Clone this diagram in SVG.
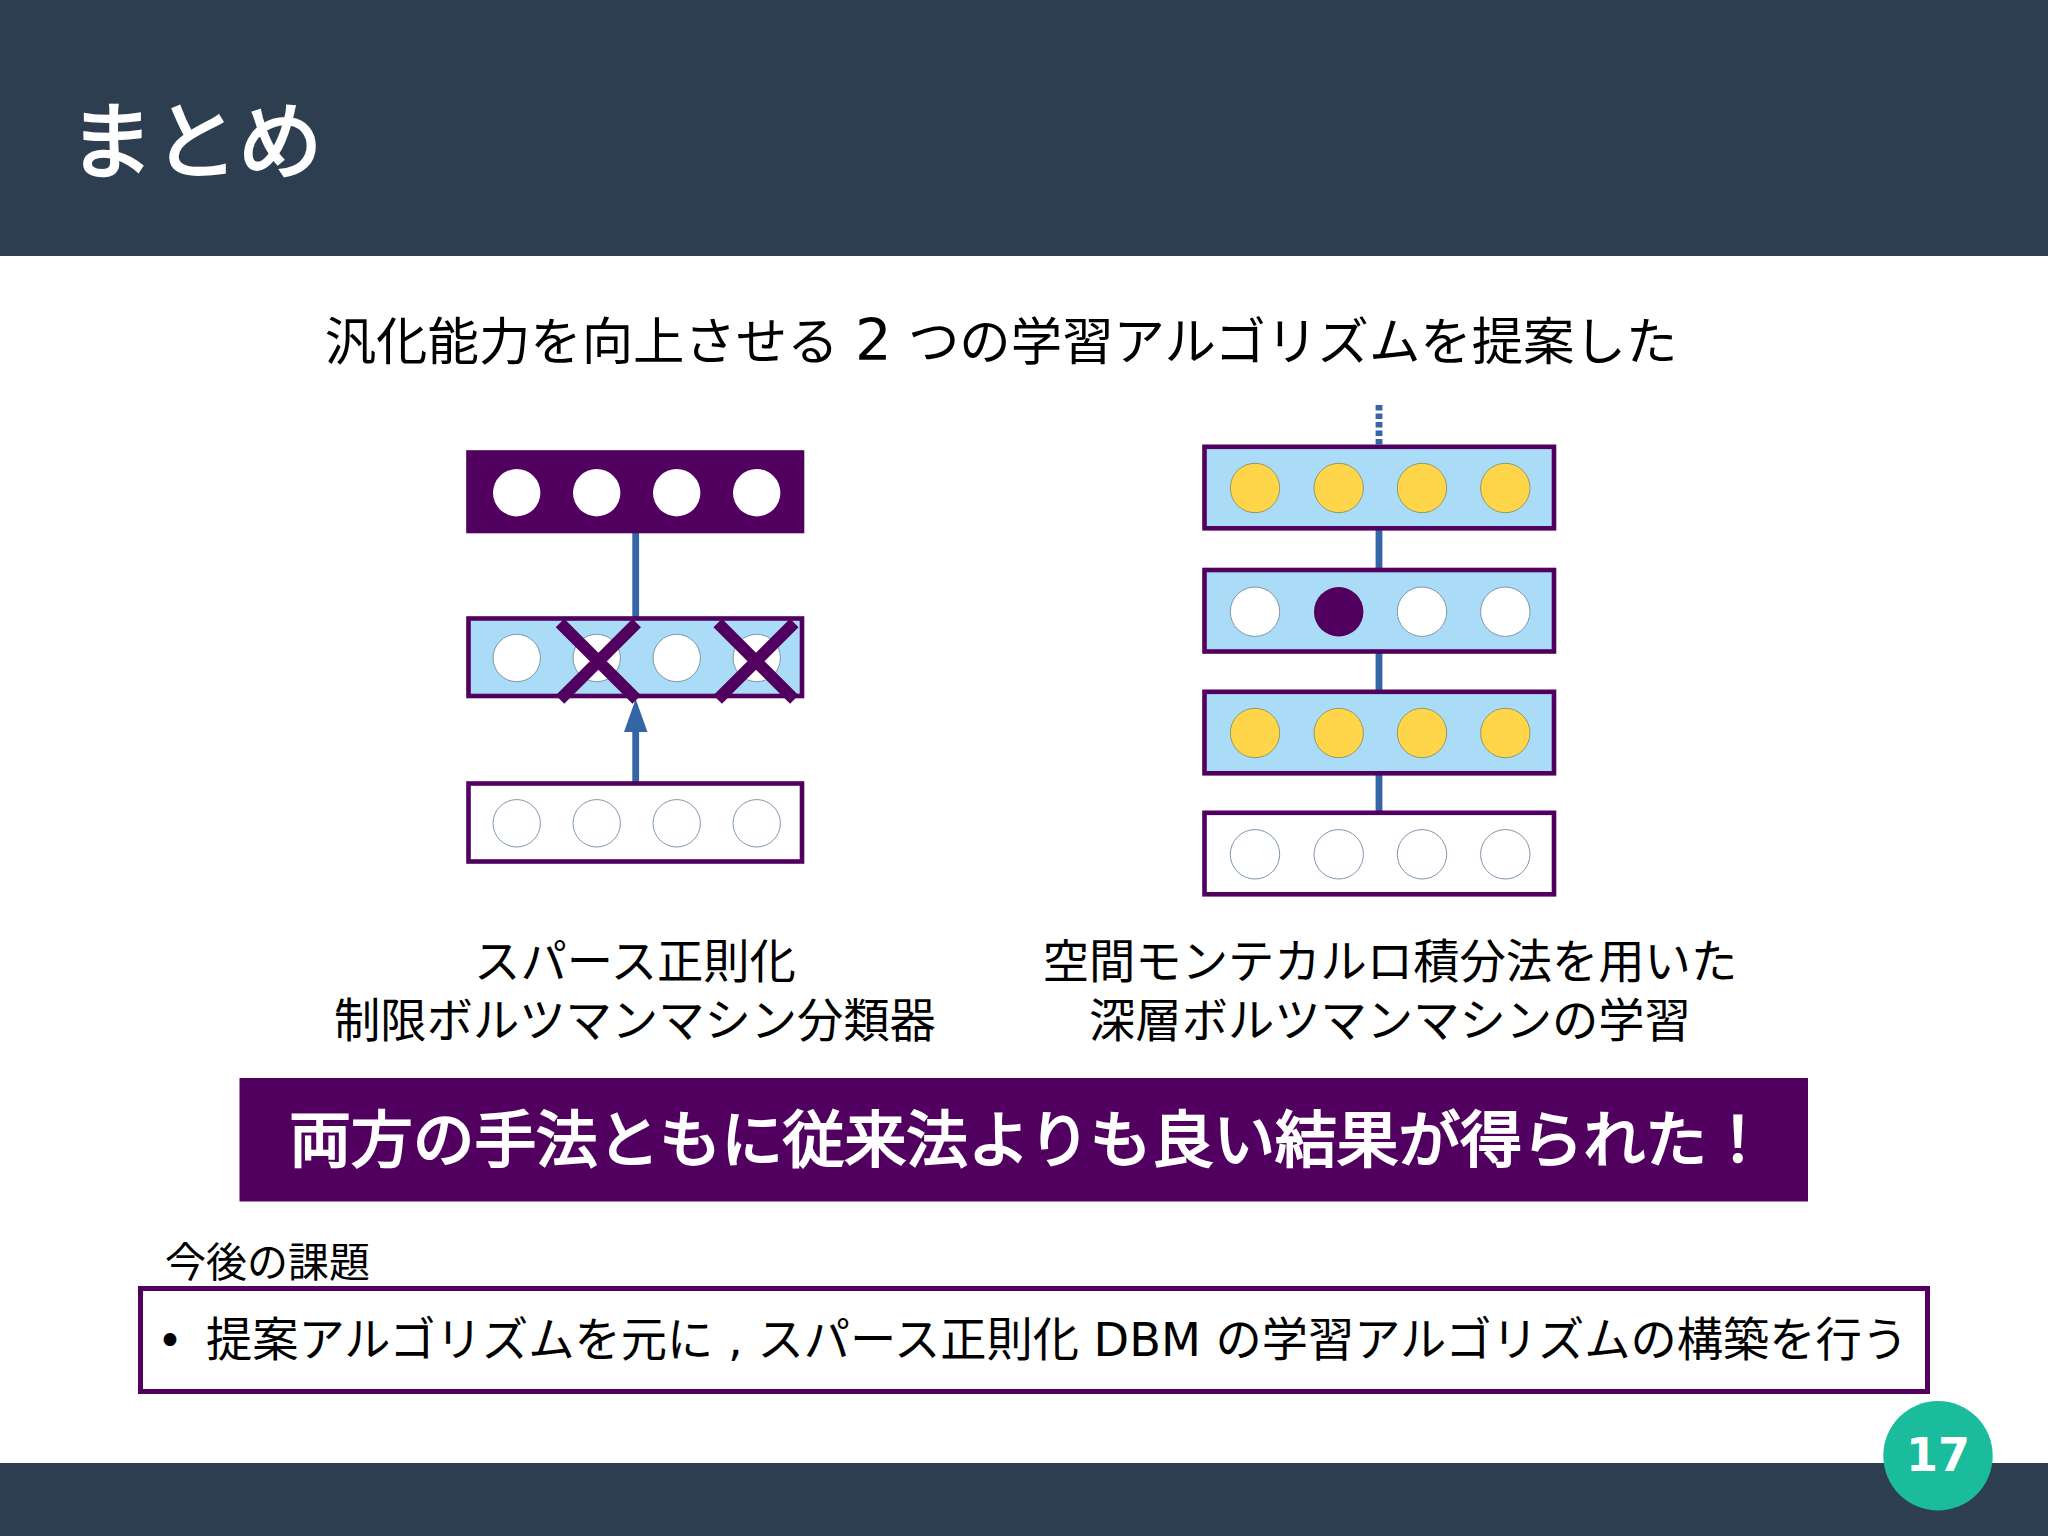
<svg xmlns="http://www.w3.org/2000/svg" width="2048" height="1536" viewBox="0 0 2048 1536">
<style>
text{font-family:"DejaVu Sans","Noto Sans CJK JP",sans-serif;fill:#000}
.w{fill:#fff}
.mid{text-anchor:middle}
.layer{stroke:#52005f;stroke-width:4.6}
.blue{fill:#aadcf7}
.none{fill:#fff}
.n{stroke:#7f95ad;stroke-width:1;fill:#fff}
.y{stroke:#8f9a6a;stroke-width:1;fill:#ffd64a}
.conn{stroke:#3465a4;stroke-width:6.8;fill:none}
.x{stroke:#52005f;stroke-width:12;fill:none}
</style>
<rect width="2048" height="1536" fill="#fff"/>
<rect id="header" width="2048" height="256" fill="#2e3e51"/>
<rect id="footer" y="1463" width="2048" height="73" fill="#2e3e51"/>
<text id="title" class="w" x="69" y="172" font-size="84.5" stroke="#fff" stroke-width="2.4">まとめ</text>
<text id="subtitle" class="mid" x="1001" y="360" font-size="51.4">汎化能力を向上させる <tspan font-size="57.6">2</tspan> つの学習アルゴリズムを提案した</text>

<g id="connectors">
<path class="conn" d="M635.7 531V618M635.7 782V728"/>
<path d="M635.7 699L647.5 732H624Z" fill="#3465a4"/>
<path class="conn" d="M1379 405V445" stroke-dasharray="5.5 3"/>
<path class="conn" d="M1379 529V569M1379 652V691M1379 774V812"/>
</g>

<g id="left-top">
<rect class="layer" x="468.5" y="452.5" width="333.5" height="78.5" fill="#52005f"/>
<circle class="n" cx="516.7" cy="492.7" r="23.7" style="stroke:none"/><circle class="n" cx="596.7" cy="492.7" r="23.7" style="stroke:none"/><circle class="n" cx="676.7" cy="492.7" r="23.7" style="stroke:none"/><circle class="n" cx="756.7" cy="492.7" r="23.7" style="stroke:none"/>
</g>
<g id="left-middle">
<rect class="layer blue" x="468.5" y="618.5" width="333.5" height="77.5"/>
<circle class="n" cx="516.7" cy="658" r="23.7"/><circle class="n" cx="596.7" cy="658" r="23.7"/><circle class="n" cx="676.7" cy="658" r="23.7"/><circle class="n" cx="756.7" cy="658" r="23.7"/>
<path class="x" d="M560 623L636.7 699.5M636.7 623L560 699.5M717.7 623L794.3 699.5M794.3 623L717.7 699.5"/>
</g>
<g id="left-bottom">
<rect class="layer none" x="468.5" y="783.5" width="333.5" height="78"/>
<circle class="n" cx="516.7" cy="823.3" r="23.7"/><circle class="n" cx="596.7" cy="823.3" r="23.7"/><circle class="n" cx="676.7" cy="823.3" r="23.7"/><circle class="n" cx="756.7" cy="823.3" r="23.7"/>
</g>

<g id="right-h2">
<rect class="layer blue" x="1204.5" y="446.8" width="349.5" height="81.5"/>
<circle class="y" cx="1255" cy="488" r="24.7"/><circle class="y" cx="1338.7" cy="488" r="24.7"/><circle class="y" cx="1422" cy="488" r="24.7"/><circle class="y" cx="1505.3" cy="488" r="24.7"/>
</g>
<g id="right-h1">
<rect class="layer blue" x="1204.5" y="570" width="349.5" height="81.5"/>
<circle class="n" cx="1255" cy="611.7" r="24.7"/><circle cx="1338.7" cy="611.7" r="24.7" fill="#52005f"/><circle class="n" cx="1422" cy="611.7" r="24.7"/><circle class="n" cx="1505.3" cy="611.7" r="24.7"/>
</g>
<g id="right-h0">
<rect class="layer blue" x="1204.5" y="691.8" width="349.5" height="81.5"/>
<circle class="y" cx="1255" cy="733" r="24.7"/><circle class="y" cx="1338.7" cy="733" r="24.7"/><circle class="y" cx="1422" cy="733" r="24.7"/><circle class="y" cx="1505.3" cy="733" r="24.7"/>
</g>
<g id="right-v">
<rect class="layer none" x="1204.5" y="812.8" width="349.5" height="81.5"/>
<circle class="n" cx="1255" cy="854.3" r="24.7"/><circle class="n" cx="1338.7" cy="854.3" r="24.7"/><circle class="n" cx="1422" cy="854.3" r="24.7"/><circle class="n" cx="1505.3" cy="854.3" r="24.7"/>
</g>

<g id="labels" font-size="46.3">
<text class="mid" x="635" y="978">スパース正則化</text>
<text class="mid" x="635" y="1037">制限ボルツマンマシン分類器</text>
<text class="mid" x="1390" y="978">空間モンテカルロ積分法を用いた</text>
<text class="mid" x="1390" y="1037">深層ボルツマンマシンの学習</text>
</g>

<g id="banner">
<rect x="239.5" y="1078" width="1568.5" height="123.5" fill="#52005f"/>
<text class="w mid" x="1029" y="1162" font-size="61.7" stroke="#fff" stroke-width="2.2">両方の手法ともに従来法よりも良い結果が得られた！</text>
</g>

<text id="future" x="165" y="1277" font-size="41">今後の課題</text>
<g id="future-box">
<rect x="140.5" y="1288.5" width="1787" height="103" fill="#fff" stroke="#52005f" stroke-width="5"/>
<text x="157" y="1356" font-size="44">•</text>
<text x="206" y="1356" font-size="46.25">提案アルゴリズムを元に , スパース正則化 DBM の学習アルゴリズムの構築を行う</text>
</g>

<g id="page-number">
<circle cx="1938" cy="1455.7" r="54.7" fill="#1abc9c"/>
<text class="w mid" x="1938" y="1471" font-size="46" font-weight="bold">17</text>
</g>
</svg>
